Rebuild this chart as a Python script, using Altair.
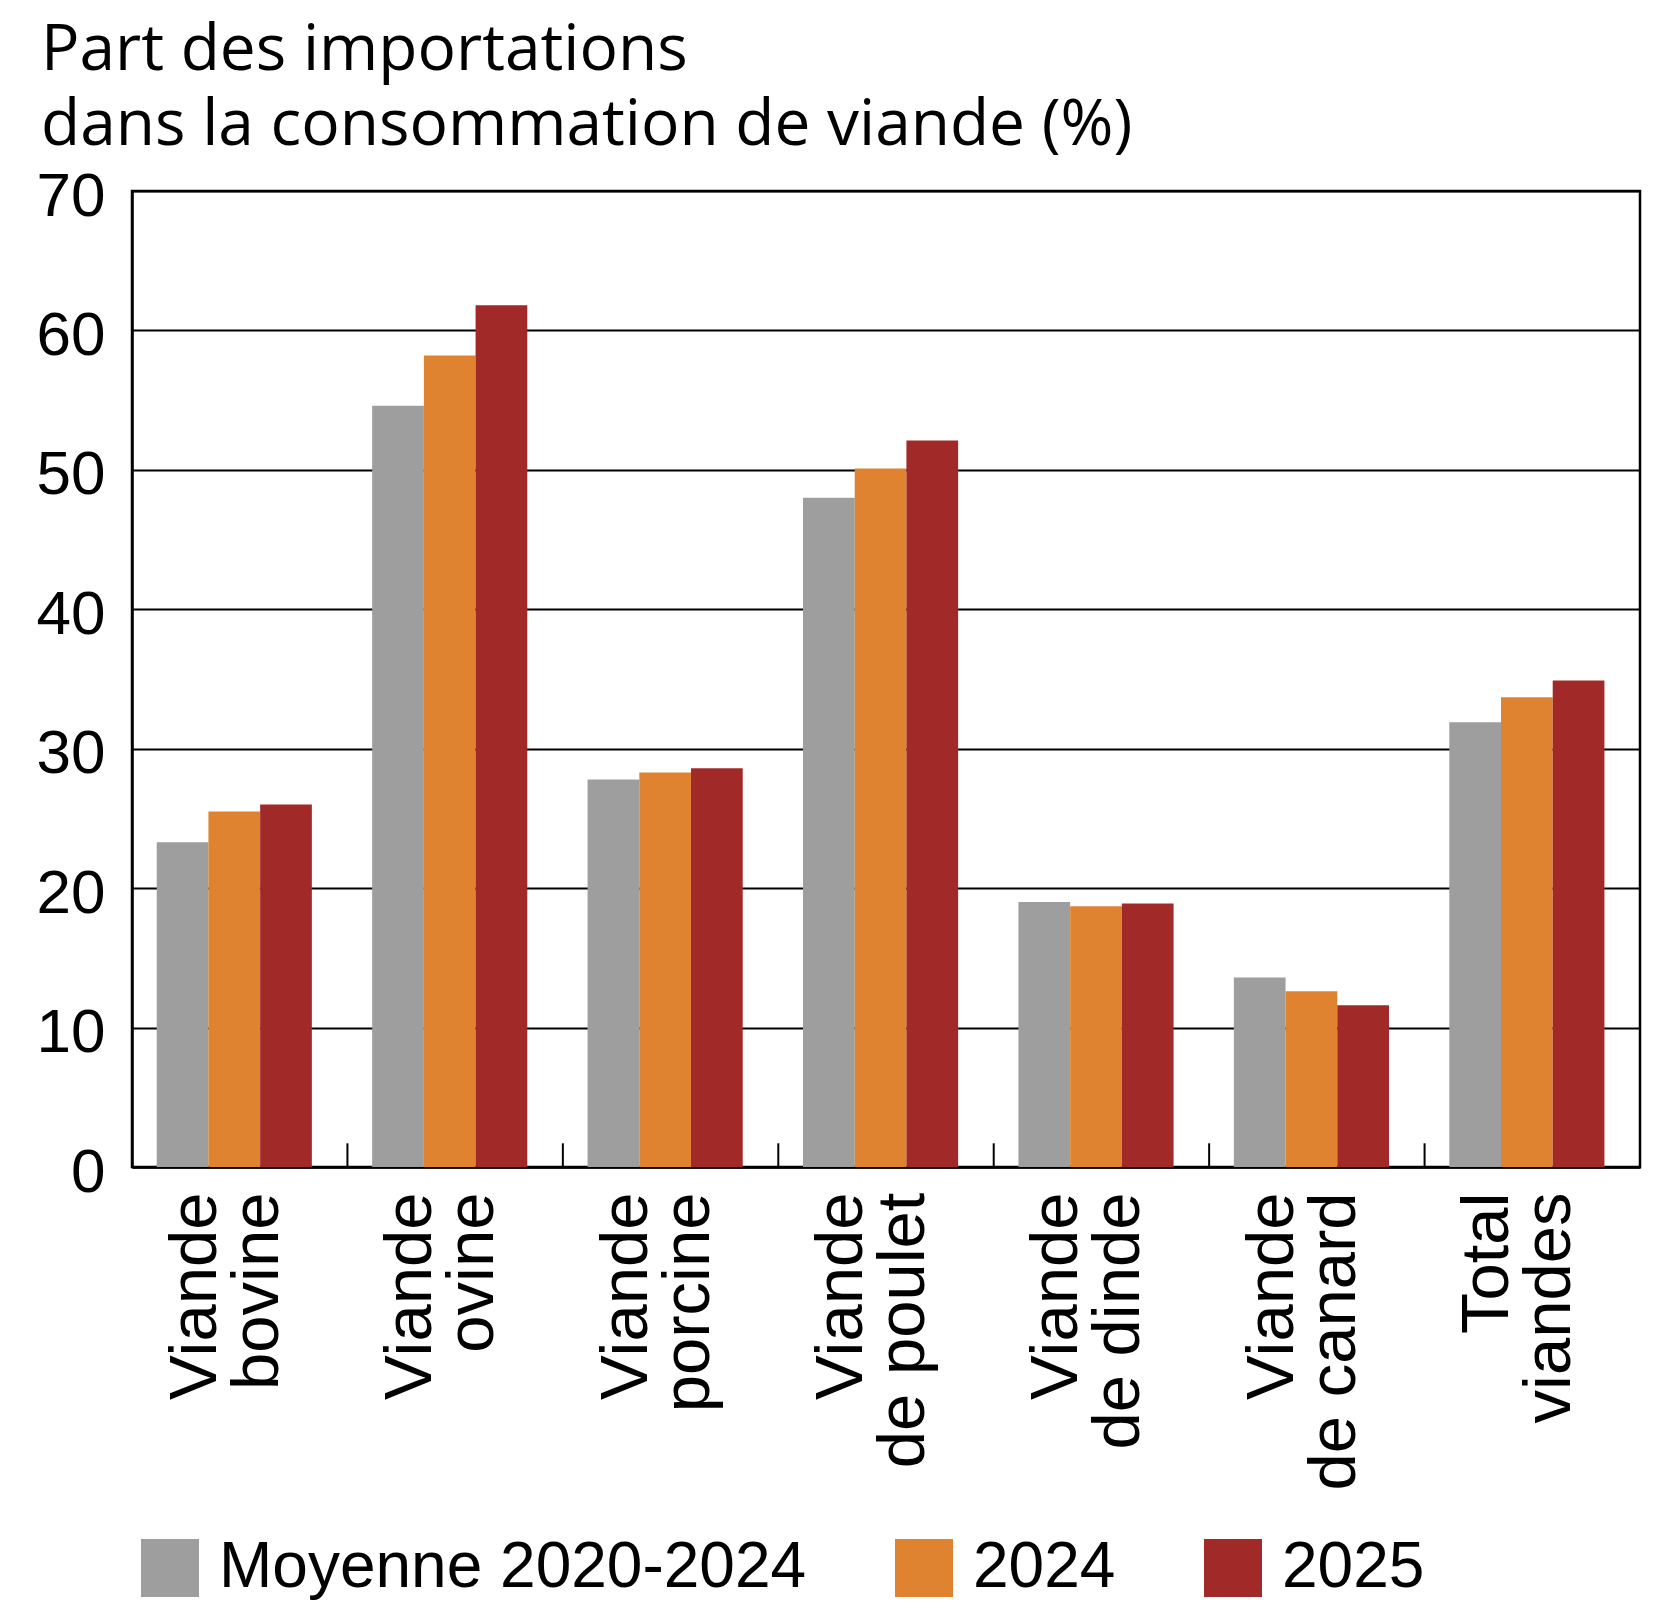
import altair as alt
import pandas as pd

categories = ["Viande bovine", "Viande ovine", "Viande porcine", "Viande de poulet",
              "Viande de dinde", "Viande de canard", "Total viandes"]
series = ["Moyenne 2020-2024", "2024", "2025"]
moyenne = [23.3, 54.6, 27.8, 48.0, 19.0, 13.6, 31.9]
v2024 = [25.5, 58.2, 28.3, 50.1, 18.7, 12.6, 33.7]
v2025 = [26.0, 61.8, 28.6, 52.1, 18.9, 11.6, 34.9]
colors = ["#9e9e9e", "#e08331", "#a12a28"]
y_ticks = [0, 10, 20, 30, 40, 50, 60, 70]

rows = []
for s, vals in zip(series, [moyenne, v2024, v2025]):
    for c, v in zip(categories, vals):
        rows.append({"cat": c, "serie": s, "value": v})
df = pd.DataFrame(rows)

label_font = "Liberation Sans"

bars = alt.Chart(df).mark_bar().encode(
    x=alt.X("cat:N", sort=categories,
            scale=alt.Scale(paddingInner=0, paddingOuter=0),
            axis=alt.Axis(title=None, ticks=False, labelAngle=270, labelAlign="right",
                          labelBaseline="middle", labelFontSize=67, labelFont=label_font,
                          labelLineHeight=62, labelPadding=25, labelLimit=1000,
                          labelOffset=-44,
                          labelColor="black", domainColor="black", domainWidth=2.5,
                          labelExpr="[substring(datum.label, 0, indexof(datum.label, ' ')), substring(datum.label, indexof(datum.label, ' ') + 1)]")),
    xOffset=alt.XOffset("serie:N", sort=series,
                        scale=alt.Scale(paddingInner=0, paddingOuter=0.583, align=0.41)),
    y=alt.Y("value:Q", scale=alt.Scale(domain=[0, 70], nice=False),
            axis=alt.Axis(title=None, values=y_ticks, ticks=False, labelFontSize=62,
                          labelFont=label_font, labelPadding=27, labelColor="black",
                          labelOffset=5,
                          domainColor="black", domainWidth=2.5, grid=True,
                          gridColor="black", gridWidth=2)),
    color=alt.Color("serie:N", sort=series,
                    scale=alt.Scale(domain=series, range=colors),
                    legend=alt.Legend(title=None, orient="none", legendX=6, legendY=1345,
                                      direction="horizontal", symbolType="square",
                                      symbolSize=3364, symbolStrokeWidth=0,
                                      symbolOpacity=1,
                                      labelFontSize=64, labelFont=label_font,
                                      labelColor="black", labelOffset=17,
                                      columnPadding=85, padding=0, labelLimit=1000)),
)

ticks = alt.Chart(pd.DataFrame({"cat": categories[1:]})).mark_rule(
    color="black", strokeWidth=2).encode(
    x=alt.X("cat:N", sort=categories, bandPosition=0),
    y=alt.datum(0),
    y2=alt.datum(1.7),
)

chart = alt.layer(bars, ticks).properties(
    width=1508,
    height=976,
    autosize=alt.AutoSizeParams(type="none"),
    padding={"left": 124, "top": 183, "right": 10, "bottom": 445},
    title=alt.TitleParams(
        text=["Part des importations", "dans la consommation de viande (%)"],
        anchor="start", frame="bounds", font="Open Sans", fontSize=64,
        fontWeight="normal", color="black", lineHeight=75, offset=7, dx=5),
).configure_view(stroke="black", strokeWidth=2.5)

chart.save("out.html", embed_options={"renderer": "svg", "actions": False})
